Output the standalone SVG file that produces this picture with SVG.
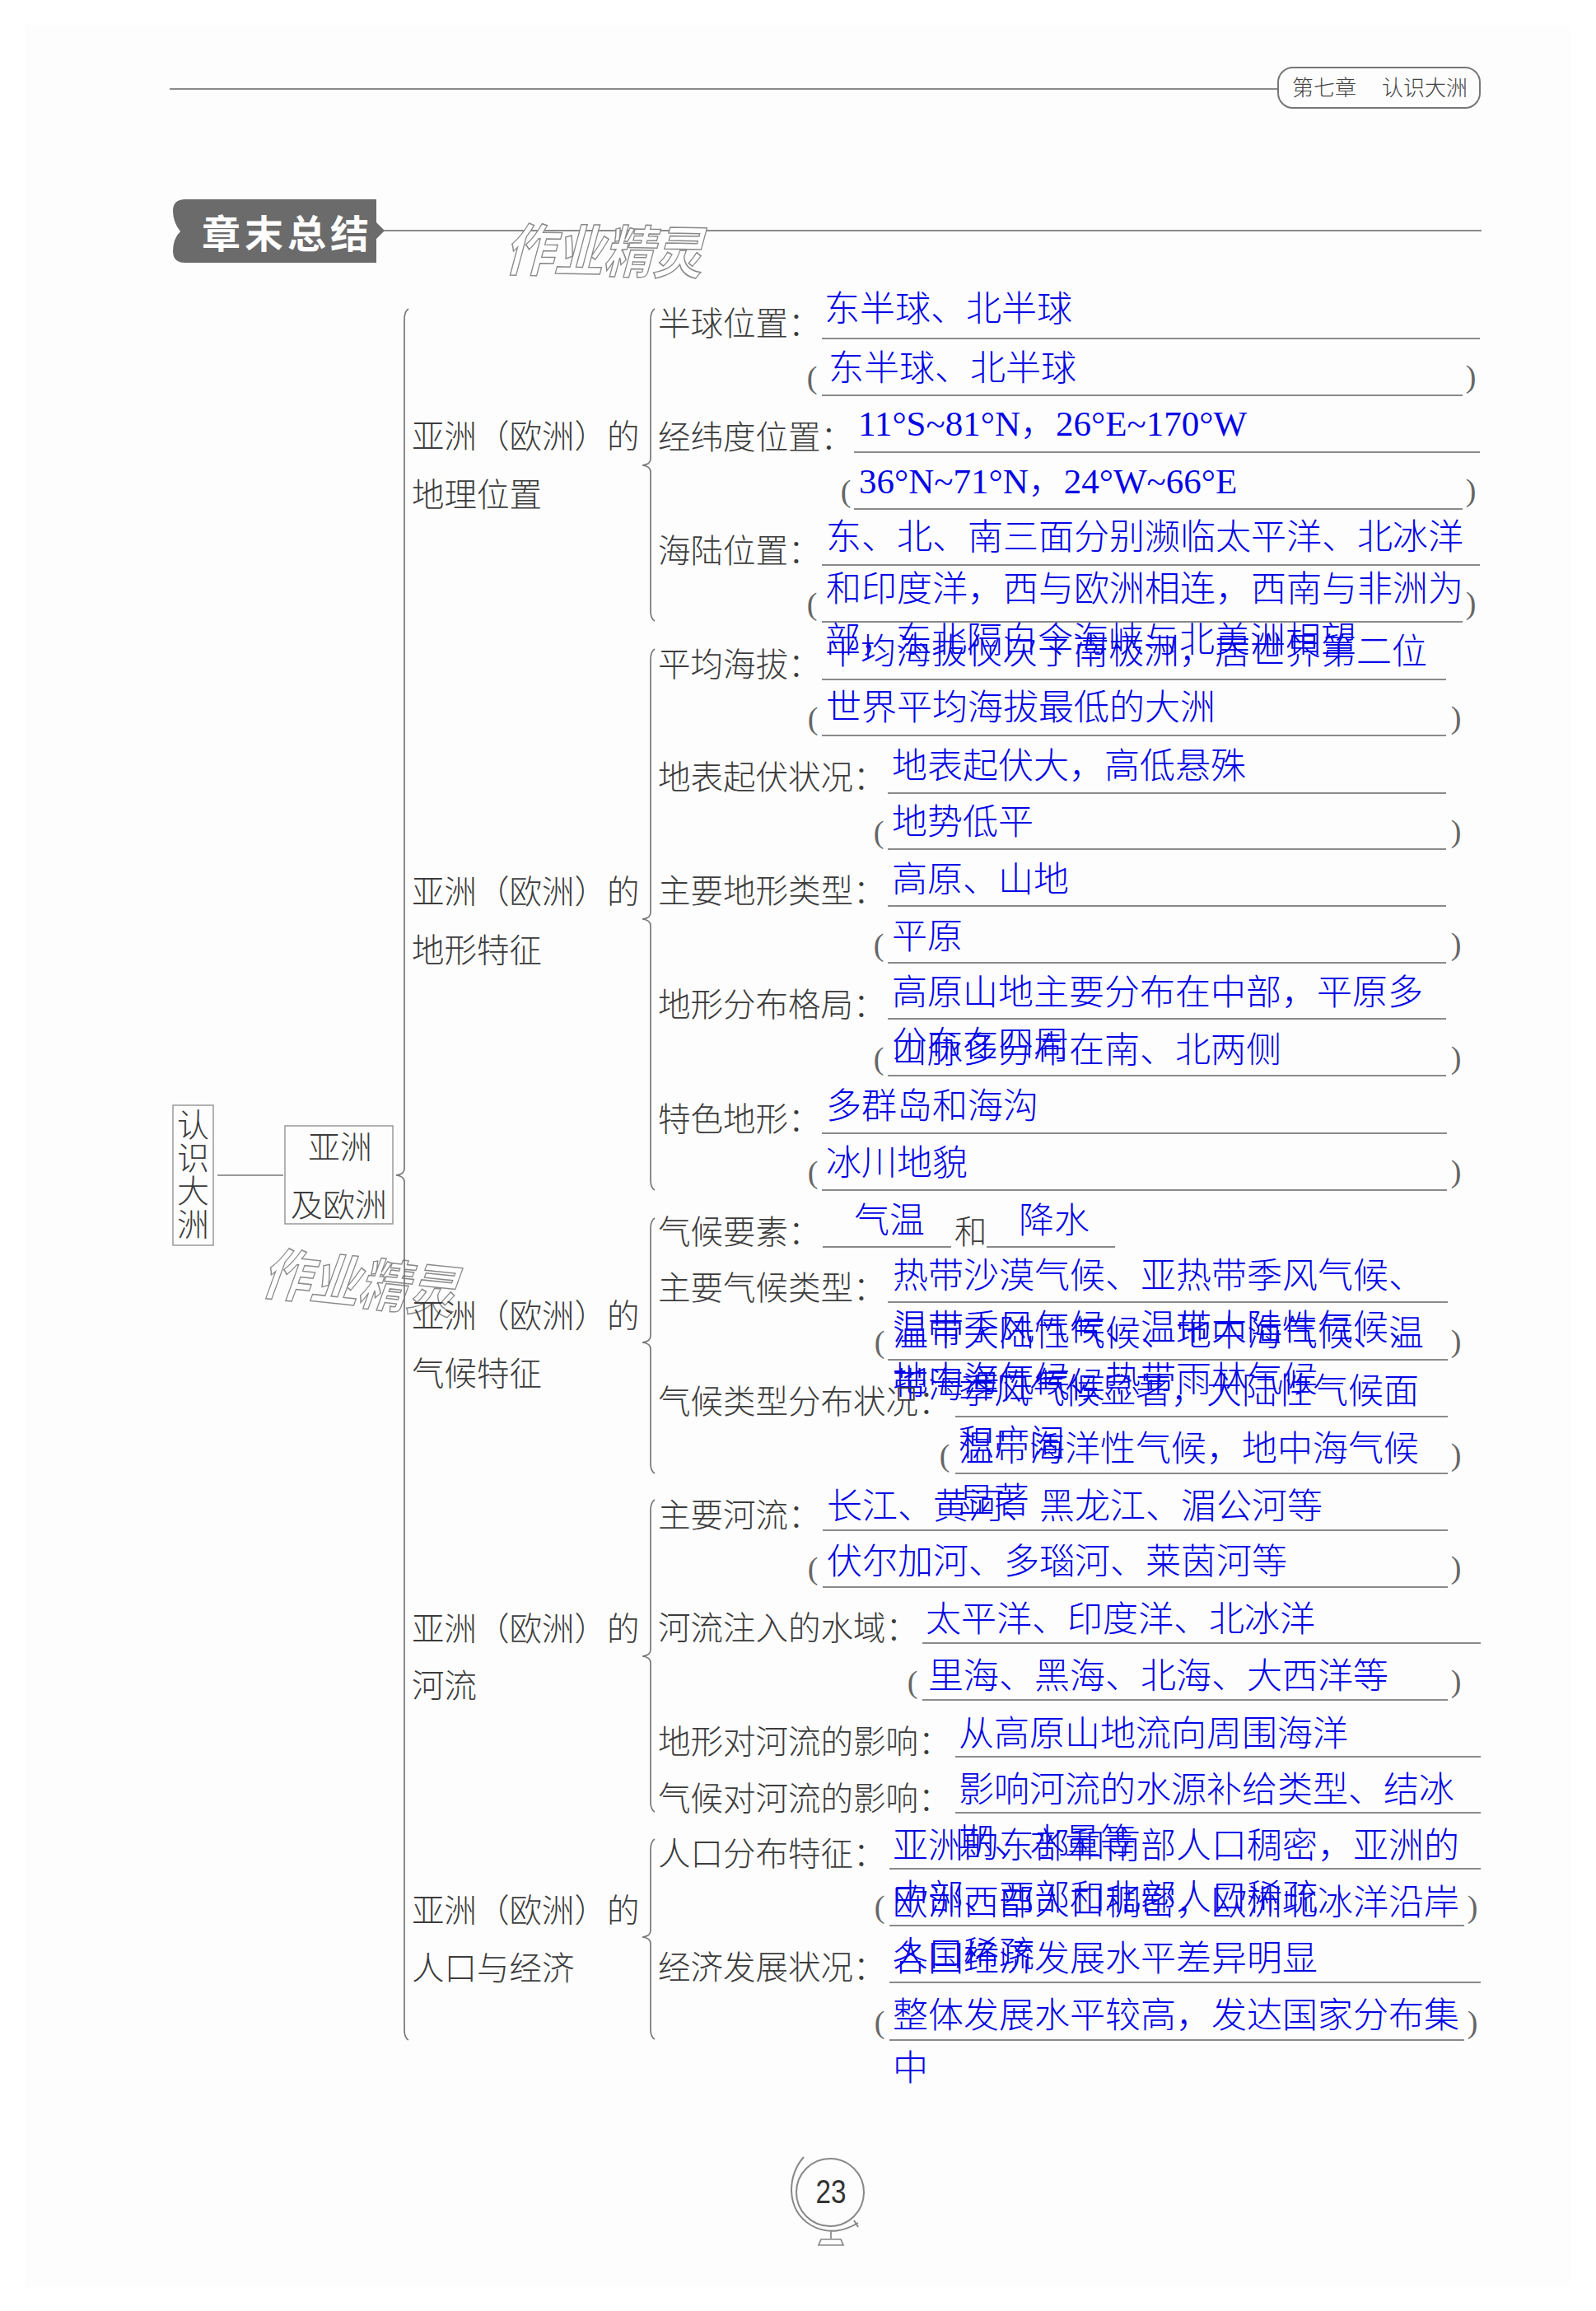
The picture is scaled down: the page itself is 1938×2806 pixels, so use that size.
<svg xmlns="http://www.w3.org/2000/svg" width="1938" height="2806" viewBox="0 0 1938 2806">
<style>
text{font-family:"Liberation Serif","Noto Sans CJK SC",serif}
.k{font-family:"Noto Sans CJK SC",sans-serif;font-size:39.5px;font-weight:300;fill:#3c3c3c}
.b{font-size:43px;font-weight:300;fill:#0505e6}
.u{stroke:#8a8a8a;stroke-width:2;fill:none}
.c{stroke:#777;stroke-width:1.7;fill:none}
.p{font-size:38px;fill:#666;text-anchor:middle}
.box{fill:none;stroke:#999;stroke-width:1.5}
.w{font-family:"Noto Sans CJK SC",sans-serif;font-size:68px;font-weight:700;fill:#fff;stroke:#8a8a8a;stroke-width:1.5}
</style>
<rect width="1938" height="2806" fill="#fff"/>
<rect x="30" y="30" width="1877" height="2747" fill="#fdfdfd"/>

<g id="header">
<path class="u" d="M206 108H1552"/>
<rect x="1552" y="82" width="245" height="49" rx="18" fill="none" stroke="#777" stroke-width="2"/>
<text x="1569" y="116" style="font-family:'Noto Sans CJK SC',sans-serif;font-size:26px;font-weight:300;fill:#444">第七章</text>
<text x="1678" y="116" style="font-family:'Noto Sans CJK SC',sans-serif;font-size:26px;font-weight:300;fill:#444">认识大洲</text>
</g>
<g id="section-title">
<path class="u" d="M465 280H1799"/>
<path d="M225 242H457V270L467 280L457 290V319H225Q210 319 210 305Q210 290 219 281Q210 270 210 256Q210 242 225 242Z" fill="#6b6b6b"/>
<text x="245" y="301" style="font-family:'Noto Sans CJK SC',sans-serif;font-size:47px;font-weight:700;fill:#fff;letter-spacing:5px">章末总结</text>
</g>
<g id="watermarks">
<text class="w" transform="translate(612 328) rotate(1) skewX(-14)" textLength="240" lengthAdjust="spacingAndGlyphs">作业精灵</text>
<text class="w" transform="translate(316 1570) rotate(6) skewX(-14)" textLength="236" lengthAdjust="spacingAndGlyphs">作业精灵</text>
</g>

<g id="connectors">
<path class="c" d="M264 1427H344"/>
<path class="c" d="M496 375Q491 378 491 388V1419Q491 1426 481 1427Q491 1428 491 1435V2465Q491 2474 496 2477"/>
<path class="c" d="M795 375Q790 378 790 388V557Q790 564 780 565Q790 566 790 573V742Q790 751 795 754"/>
<path class="c" d="M795 788Q790 791 790 801V1108Q790 1115 780 1116Q790 1117 790 1124V1433Q790 1442 795 1445"/>
<path class="c" d="M795 1479Q790 1482 790 1492V1622Q790 1629 780 1630Q790 1631 790 1638V1777Q790 1786 795 1789"/>
<path class="c" d="M795 1821Q790 1824 790 1834V2003Q790 2010 780 2011Q790 2012 790 2019V2188Q790 2197 795 2200"/>
<path class="c" d="M795 2233Q790 2236 790 2246V2344Q790 2351 780 2352Q790 2353 790 2360V2464Q790 2473 795 2476"/>
</g>

<g id="node-root">
<rect class="box" x="210" y="1342" width="49" height="170"/>
<text class="k" x="215" y="1380" style="font-size:39px">认</text>
<text class="k" x="215" y="1420" style="font-size:39px">识</text>
<text class="k" x="215" y="1460" style="font-size:39px">大</text>
<text class="k" x="215" y="1501" style="font-size:39px">洲</text>
</g>
<g id="node-asia-europe">
<rect class="box" x="346" y="1367" width="131" height="119"/>
<text class="k" x="374" y="1407" style="font-size:39px">亚洲</text>
<text class="k" x="353" y="1477" style="font-size:39px">及欧洲</text>
</g>

<g id="node-geo">
<text class="k" x="500" y="544">亚洲（欧洲）的</text>
<text class="k" x="500" y="615">地理位置</text>
</g>
<g id="node-terrain">
<text class="k" x="500" y="1097">亚洲（欧洲）的</text>
<text class="k" x="500" y="1168">地形特征</text>
</g>
<g id="node-climate">
<text class="k" x="500" y="1612">亚洲（欧洲）的</text>
<text class="k" x="500" y="1682">气候特征</text>
</g>
<g id="node-river">
<text class="k" x="500" y="1992">亚洲（欧洲）的</text>
<text class="k" x="500" y="2061">河流</text>
</g>
<g id="node-people">
<text class="k" x="500" y="2334">亚洲（欧洲）的</text>
<text class="k" x="500" y="2404">人口与经济</text>
</g>

<g id="row-hemisphere">
<text class="k" x="799" y="407">半球位置：</text>
<path class="u" d="M998 411H1797M998 480H1776"/>
<text class="b" x="1001" y="390">东半球、北半球</text>
<text class="b" x="1006" y="462">东半球、北半球</text>
<text class="p" x="986" y="471">(</text><text class="p" x="1786" y="470">)</text>
</g>
<g id="row-latlon">
<text class="k" x="799" y="545">经纬度位置：</text>
<path class="u" d="M1037 549H1797M1037 618H1776"/>
<text class="b" x="1042" y="529">11°S~81°N，26°E~170°W</text>
<text class="b" x="1043" y="599">36°N~71°N，24°W~66°E</text>
<text class="p" x="1027" y="609">(</text><text class="p" x="1786" y="608">)</text>
</g>
<g id="row-sealand">
<text class="k" x="799" y="683">海陆位置：</text>
<path class="u" d="M998 686H1797M998 755H1776"/>
<text class="b" x="1003" y="667">东、北、南三面分别濒临太平洋、北冰洋</text>
<text class="b" x="1003" y="730">和印度洋，西与欧洲相连，西南与非洲为</text>
<text class="b" x="1002" y="792">部，东北隔白令海峡与北美洲相望</text>
<text class="p" x="986" y="746">(</text><text class="p" x="1786" y="745">)</text>
</g>

<g id="row-altitude">
<text class="k" x="799" y="821">平均海拔：</text>
<path class="u" d="M998 825H1756M998 893H1756"/>
<text class="b" x="1002" y="806">平均海拔仅次于南极洲，居世界第二位</text>
<text class="b" x="1003" y="874">世界平均海拔最低的大洲</text>
<text class="p" x="987" y="885">(</text><text class="p" x="1768" y="884">)</text>
</g>
<g id="row-relief">
<text class="k" x="799" y="958">地表起伏状况：</text>
<path class="u" d="M1078 963H1756M1078 1031H1756"/>
<text class="b" x="1083" y="945">地表起伏大，高低悬殊</text>
<text class="b" x="1083" y="1013">地势低平</text>
<text class="p" x="1067" y="1023">(</text><text class="p" x="1768" y="1022">)</text>
</g>
<g id="row-landform">
<text class="k" x="799" y="1096">主要地形类型：</text>
<path class="u" d="M1078 1100H1756M1078 1169H1756"/>
<text class="b" x="1083" y="1083">高原、山地</text>
<text class="b" x="1083" y="1152">平原</text>
<text class="p" x="1067" y="1160">(</text><text class="p" x="1768" y="1159">)</text>
</g>
<g id="row-pattern">
<text class="k" x="799" y="1234">地形分布格局：</text>
<path class="u" d="M1078 1237H1756M1078 1306H1756"/>
<text class="b" x="1083" y="1220">高原山地主要分布在中部，平原多</text>
<text class="b" x="1083" y="1283">分布在四周</text>
<text class="b" x="1083" y="1290">山脉多分布在南、北两侧</text>
<text class="p" x="1067" y="1298">(</text><text class="p" x="1768" y="1297">)</text>
</g>
<g id="row-feature">
<text class="k" x="799" y="1373">特色地形：</text>
<path class="u" d="M998 1376H1757M998 1445H1757"/>
<text class="b" x="1003" y="1358">多群岛和海沟</text>
<text class="b" x="1003" y="1427">冰川地貌</text>
<text class="p" x="987" y="1436">(</text><text class="p" x="1768" y="1435">)</text>
</g>

<g id="row-elements">
<text class="k" x="799" y="1510">气候要素：</text>
<path class="u" d="M999 1514H1155M1198 1514H1354"/>
<text class="b" x="1037" y="1497">气温</text>
<text class="k" x="1159" y="1510">和</text>
<text class="b" x="1237" y="1497">降水</text>
</g>
<g id="row-climatetype">
<text class="k" x="799" y="1578">主要气候类型：</text>
<path class="u" d="M1078 1581H1758M1078 1651H1758"/>
<text class="b" x="1084" y="1564">热带沙漠气候、亚热带季风气候、</text>
<text class="b" x="1084" y="1627">温带季风气候、温带大陆性气候、</text>
<text class="b" x="1084" y="1690">地中海气候、热带雨林气候</text>
<text class="b" x="1084" y="1634">温带大陆性气候、地中海气候、温</text>
<text class="b" x="1084" y="1697">带海洋性气候</text>
<text class="p" x="1068" y="1642">(</text><text class="p" x="1768" y="1641">)</text>
</g>
<g id="row-distribution">
<text class="k" x="799" y="1716">气候类型分布状况：</text>
<path class="u" d="M1160 1720H1758M1160 1789H1758"/>
<text class="b" x="1164" y="1704">季风气候显著，大陆性气候面</text>
<text class="b" x="1164" y="1767">积广阔</text>
<text class="b" x="1164" y="1774">温带海洋性气候，地中海气候</text>
<text class="b" x="1164" y="1837">显著</text>
<text class="p" x="1147" y="1780">(</text><text class="p" x="1768" y="1779">)</text>
</g>

<g id="row-rivers">
<text class="k" x="799" y="1854">主要河流：</text>
<path class="u" d="M999 1858H1758M999 1927H1758"/>
<text class="b" x="1004" y="1844">长江、黄河、黑龙江、湄公河等</text>
<text class="b" x="1004" y="1911">伏尔加河、多瑙河、莱茵河等</text>
<text class="p" x="987" y="1917">(</text><text class="p" x="1768" y="1916">)</text>
</g>
<g id="row-waters">
<text class="k" x="799" y="1991">河流注入的水域：</text>
<path class="u" d="M1120 1995H1798M1120 2064H1758"/>
<text class="b" x="1124" y="1981">太平洋、印度洋、北冰洋</text>
<text class="b" x="1127" y="2050">里海、黑海、北海、大西洋等</text>
<text class="p" x="1108" y="2055">(</text><text class="p" x="1768" y="2054">)</text>
</g>
<g id="row-terrain-effect">
<text class="k" x="799" y="2129">地形对河流的影响：</text>
<path class="u" d="M1160 2133H1798"/>
<text class="b" x="1164" y="2120">从高原山地流向周围海洋</text>
</g>
<g id="row-climate-effect">
<text class="k" x="799" y="2198">气候对河流的影响：</text>
<path class="u" d="M1160 2201H1798"/>
<text class="b" x="1164" y="2188">影响河流的水源补给类型、结冰</text>
<text class="b" x="1164" y="2251">期、水量等</text>
</g>

<g id="row-population">
<text class="k" x="799" y="2265">人口分布特征：</text>
<path class="u" d="M1080 2269H1798M1080 2338H1778"/>
<text class="b" x="1084" y="2256">亚洲的东部和南部人口稠密，亚洲的</text>
<text class="b" x="1084" y="2319">中部、西部和北部人口稀疏</text>
<text class="b" x="1084" y="2325">欧洲西部人口稠密，欧洲北冰洋沿岸</text>
<text class="b" x="1084" y="2388">人口稀疏</text>
<text class="p" x="1068" y="2328">(</text><text class="p" x="1788" y="2328">)</text>
</g>
<g id="row-economy">
<text class="k" x="799" y="2403">经济发展状况：</text>
<path class="u" d="M1080 2407H1798M1080 2477H1778"/>
<text class="b" x="1084" y="2393">各国经济发展水平差异明显</text>
<text class="b" x="1084" y="2462">整体发展水平较高，发达国家分布集</text>
<text class="b" x="1084" y="2526">中</text>
<text class="p" x="1068" y="2468">(</text><text class="p" x="1788" y="2468">)</text>
</g>

<g id="page-number">
<circle cx="1008" cy="2662" r="41" fill="none" stroke="#888" stroke-width="2"/>
<path d="M976 2619Q961 2636 961 2660Q962 2688 985 2702Q1012 2717 1042 2699M1037 2696L1042 2704" fill="none" stroke="#888" stroke-width="2"/>
<path d="M1009 2709V2718M997 2719H1021L1024 2726H994Z" fill="none" stroke="#888" stroke-width="1.7"/>
<text x="1009" y="2675" text-anchor="middle" textLength="37" lengthAdjust="spacingAndGlyphs" style="font-family:'Liberation Sans',sans-serif;font-size:40px;fill:#333">23</text>
</g>
</svg>
